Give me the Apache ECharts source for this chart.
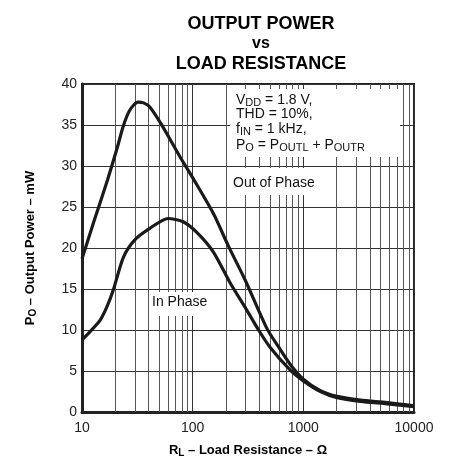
<!DOCTYPE html>
<html>
<head>
<meta charset="utf-8">
<script src="https://cdn.jsdelivr.net/npm/echarts@6/dist/echarts.min.js"></script>
<style>
  html, body { margin: 0; padding: 0; background: #fff; }
  #chart { width: 449px; height: 463px; }
</style>
</head>
<body>
<div id="chart"></div>
<script>
// values (R_L in ohms, P_O in mW)
const outOfPhase = [
  [10, 18.7], [13, 23.5], [17, 28.3], [21, 32.4], [23.5, 34.8], [27, 36.8],
  [32, 37.8], [36, 37.7], [41, 37.2], [52, 35.1], [77, 31.1],
  [105, 28.1], [154, 24.2], [211, 20.2], [298, 16.1], [468, 10.2],
  [600, 7.9], [762, 5.8], [1000, 4.0], [1426, 2.6], [2018, 1.9], [3282, 1.45],
  [5715, 1.15], [10000, 0.75]
];
const inPhase = [
  [10, 8.8], [12, 9.9], [14.6, 11.2], [17, 13.0], [19.2, 14.9], [23.7, 18.9],
  [30, 21.0], [41, 22.4], [60, 23.6], [82, 23.2], [109, 21.9], [154, 19.5],
  [219, 15.7], [300, 12.7], [394, 10.0], [500, 7.9], [762, 5.1], [1000, 3.8],
  [1426, 2.5], [2018, 1.75], [3282, 1.3], [5715, 1.0], [10000, 0.65]
];
const decadeTicks = [10, 100, 1000, 10000];
const minorTicks = [
  20, 30, 40, 50, 60, 70, 80, 90,
  200, 300, 400, 500, 600, 700, 800, 900,
  2000, 3000, 4000, 5000, 6000, 7000, 8000, 9000
];
const yTicks = [0, 5, 10, 15, 20, 25, 30, 35, 40];

const FONT = 'Liberation Sans, Arial, sans-serif';
const chart = echarts.init(document.getElementById('chart'), null, { renderer: 'canvas' });

const curve = (name, data) => ({
  name,
  type: 'line',
  data,
  smooth: 0.25,
  symbol: 'none',
  z: 10,
  lineStyle: { color: '#1a1a1a', width: 3.2 }
});

const subRich = {
  n: { fontFamily: FONT, fontSize: 14, fill: '#111', lineHeight: 15 },
  s: { fontFamily: FONT, fontSize: 11, fill: '#111', lineHeight: 15, verticalAlign: 'bottom', padding: [5, 0, 0, 0] }
};

chart.setOption({
  animation: false,
  title: [
    { text: 'OUTPUT POWER', left: 256, top: 10, textAlign: 'center',
      textStyle: { fontFamily: FONT, fontSize: 18, fontWeight: 'bold', color: '#000' } },
    { text: 'vs', left: 256, top: 31, textAlign: 'center',
      textStyle: { fontFamily: FONT, fontSize: 16, fontWeight: 'bold', color: '#000' } },
    { text: 'LOAD RESISTANCE', left: 256, top: 50, textAlign: 'center',
      textStyle: { fontFamily: FONT, fontSize: 18, fontWeight: 'bold', color: '#000' } }
  ],
  grid: { left: 82, right: 35, top: 84, bottom: 51, show: true, borderColor: '#222', borderWidth: 2 },
  xAxis: {
    type: 'log',
    logBase: 10,
    min: 10,
    max: 10000,
    name: '{b|R}{s|L}{b| – Load Resistance – Ω}',
    nameLocation: 'middle',
    nameGap: 30,
    nameTextStyle: {
      rich: {
        b: { fontFamily: FONT, fontSize: 13, fontWeight: 'bold', color: '#000', lineHeight: 16 },
        s: { fontFamily: FONT, fontSize: 10, fontWeight: 'bold', color: '#000', lineHeight: 16, verticalAlign: 'bottom', padding: [6, 0, 0, 0] }
      }
    },
    axisLine: { show: true, lineStyle: { color: '#222', width: 3 } },
    axisTick: { show: false },
    axisLabel: {
      fontFamily: FONT, fontSize: 14, color: '#222', margin: 9,
      formatter: (v) => (decadeTicks.includes(Math.round(v)) ? String(Math.round(v)) : '')
    },
    splitLine: { show: true, lineStyle: { color: '#333', width: 1 } }
  },
  yAxis: {
    type: 'value',
    min: 0,
    max: 40,
    interval: 5,
    name: '{b|P}{s|O}{b| – Output Power – mW}',
    nameLocation: 'middle',
    nameRotate: 90,
    nameGap: 44,
    nameTextStyle: {
      rich: {
        b: { fontFamily: FONT, fontSize: 13, fontWeight: 'bold', color: '#000', lineHeight: 16 },
        s: { fontFamily: FONT, fontSize: 10, fontWeight: 'bold', color: '#000', lineHeight: 16, verticalAlign: 'bottom', padding: [6, 0, 0, 0] }
      }
    },
    axisLine: { show: true, lineStyle: { color: '#222', width: 3 } },
    axisTick: { show: false },
    axisLabel: {
      fontFamily: FONT, fontSize: 14, color: '#222', margin: 5,
      formatter: (v) => (yTicks.includes(v) ? String(v) : '')
    },
    splitLine: { show: true, lineStyle: { color: '#333', width: 1 } }
  },
  graphic: [
    // white label boxes masking the grid, on their own layer above it
    { type: 'rect', zlevel: 1, shape: { x: 230, y: 89, width: 170, height: 68 }, style: { fill: '#fff' } },
    { type: 'rect', zlevel: 1, shape: { x: 230, y: 168, width: 102, height: 27 }, style: { fill: '#fff' } },
    { type: 'rect', zlevel: 1, shape: { x: 149, y: 292, width: 73, height: 24 }, style: { fill: '#fff' } },
    { type: 'text', zlevel: 1, z: 2, left: 236, top: 92, style: { text: '{n|V}{s|DD}{n| = 1.8 V,}', rich: subRich } },
    { type: 'text', zlevel: 1, z: 2, left: 236, top: 107, style: { text: 'THD = 10%,', font: '14px ' + FONT, fill: '#111' } },
    { type: 'text', zlevel: 1, z: 2, left: 236, top: 121, style: { text: '{n|f}{s|IN}{n| = 1 kHz,}', rich: subRich } },
    { type: 'text', zlevel: 1, z: 2, left: 236, top: 137, style: { text: '{n|P}{s|O}{n| = P}{s|OUTL}{n| + P}{s|OUTR}', rich: subRich } },
    { type: 'text', zlevel: 1, z: 2, left: 233, top: 176, style: { text: 'Out of Phase', font: '14px ' + FONT, fill: '#111' } },
    { type: 'text', zlevel: 1, z: 2, left: 152, top: 295, style: { text: 'In Phase', font: '14px ' + FONT, fill: '#111' } }
  ],
  series: [
    {
      // minor log grid lines (2..9 in each decade)
      type: 'line',
      data: [],
      z: 1,
      silent: true,
      markLine: {
        silent: true,
        symbol: 'none',
        label: { show: false },
        lineStyle: { color: '#555', width: 1, type: 'solid' },
        data: minorTicks.map((v) => ({ xAxis: v }))
      }
    },
    curve('Out of Phase', outOfPhase),
    curve('In Phase', inPhase)
  ]
});
</script>
</body>
</html>
